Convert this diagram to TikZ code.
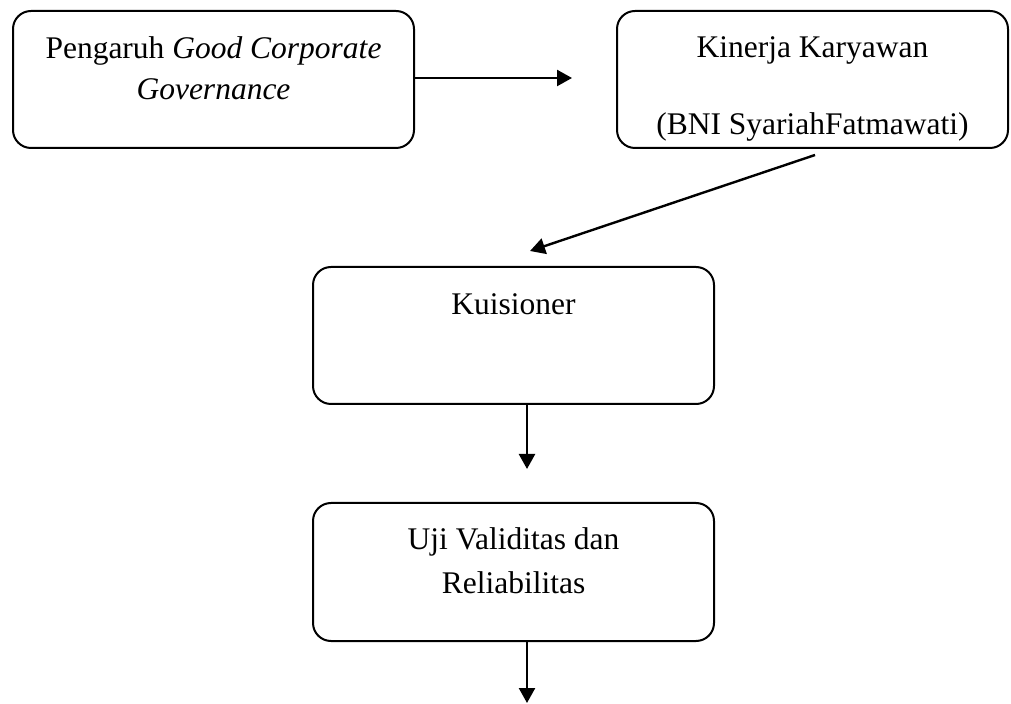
\documentclass[tikz,border=0pt]{standalone}
\usepackage{fontspec}
\setmainfont{Liberation Serif}
\usetikzlibrary{arrows.meta,positioning}

\begin{document}
\begin{tikzpicture}[x=0.5pt,y=-0.5pt,>={Triangle[length=7.5pt,width=8pt]},
  box/.style={draw,line width=1pt,rounded corners=9pt,minimum height=68.5pt,inner sep=0pt},
  txt/.style={anchor=north,inner sep=0pt,align=center,font=\fontsize{15.75}{21.5}\selectfont},
  flow/.style={->,line width=1.2pt}]
\useasboundingbox (0,0) rectangle (1011,704);
\node[box,minimum width=200.5pt] (gcg) at (213.5,79.5) {};
\node[box,minimum width=195.5pt] (kinerja) at (812.5,79.5) {};
\node[box,minimum width=200.5pt] (kuis) at (513.5,335.5) {};
\node[box,minimum width=200.5pt,minimum height=69pt] (uji) at (513.5,572) {};
\node[txt] (gcg-t) at ([yshift=-13pt]gcg.north)
  {Pengaruh \textit{Good Corporate}\\[-1pt] \textit{Governance}};
\node[txt] (kinerja-t) at ([yshift=-13pt]kinerja.north)
  {Kinerja Karyawan\\[17pt] (BNI SyariahFatmawati)};
\node[txt] (kuis-t) at ([yshift=-13.5pt]kuis.north) {Kuisioner};
\node[txt] (uji-t) at ([yshift=-12.5pt]uji.north)
  {Uji Validitas dan\\[0.5pt] Reliabilitas};
% free ends of the arrows
\coordinate (tipAB) at (572,78);
\coordinate (fromK) at (815,155);
\coordinate (tipK) at (530,251);
\coordinate (tipQ) at (527,469);
\coordinate (tipU) at (527,703);
\draw[flow] (gcg.east |- tipAB) -- (tipAB);
\draw[flow] (fromK) -- (tipK);
\draw[flow] (kuis.south -| tipQ) -- (tipQ);
\draw[flow] (uji.south -| tipU) -- (tipU);
\end{tikzpicture}
\end{document}
